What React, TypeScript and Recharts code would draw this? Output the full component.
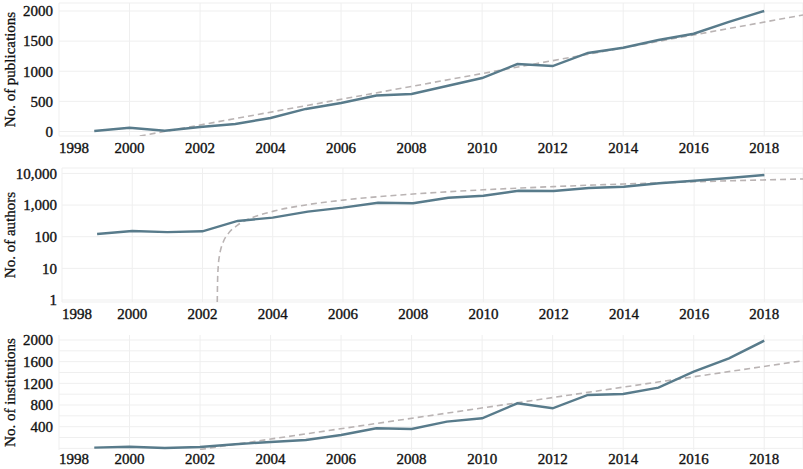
import React from 'react';
import { LineChart, Line, XAxis, YAxis, CartesianGrid } from 'recharts';

const years = [1999, 2000, 2001, 2002, 2003, 2004, 2005, 2006, 2007, 2008, 2009, 2010, 2011, 2012, 2013, 2014, 2015, 2016, 2017, 2018];
const publications = [8, 63, 13, 75, 125, 224, 374, 473, 598, 622, 755, 888, 1120, 1087, 1303, 1391, 1519, 1623, 1818, 2000];
const authors = [122, 151, 140, 148, 315, 400, 620, 828, 1185, 1136, 1700, 1973, 2830, 2770, 3460, 3800, 4870, 5880, 7160, 8900];
const institutions = [13, 31, 7, 26, 76, 118, 155, 247, 371, 358, 493, 555, 832, 740, 985, 1004, 1120, 1415, 1662, 1987];

const pubTrendYears = [2000.29, 2019.1];
const pubTrend = [-75, 1934];
const authorTrendYears = [2002.421, 2002.43, 2002.45, 2002.48, 2002.52, 2002.6, 2002.75, 2003, 2003.5, 2004, 2005, 2006, 2008, 2010, 2012, 2014, 2016, 2019.1];
const authorTrend = [0.86, 4, 12, 24, 40, 72, 132, 232, 432, 632, 1032, 1432, 2232, 3032, 3832, 4632, 5432, 6672];
const instTrendYears = [2002.0, 2019.1];
const instTrend = [-20, 1618];

const xTicks = [1998, 2000, 2002, 2004, 2006, 2008, 2010, 2012, 2014, 2016, 2018];
const pubTicks = [0, 500, 1000, 1500, 2000];
const authorTicks = [1, 10, 100, 1000, 10000];
const authorTickLabels = ['1', '10', '100', '1,000', '10,000'];
const instTicks = [400, 800, 1200, 1600, 2000];
const instGrid = [0, 200, 400, 600, 800, 1000, 1200, 1400, 1600, 1800, 2000];

const zip = (xs: number[], vs: number[]) => xs.map((x, i) => ({ year: x, v: vs[i] }));

const FONT = '"Liberation Serif", "Times New Roman", serif';
const TEXT = '#111';
const LINE = '#587b8b';
const TREND = '#bab4b4';
const GRID = '#efefef';

const XTick = (props: any) => {
  const { x, y, payload } = props;
  const first = payload.value === xTicks[0];
  return (
    <text x={x} y={y} dy="0.71em" textAnchor={first ? 'start' : 'middle'} fontSize={15} fontFamily={FONT} fill={TEXT} stroke={TEXT} strokeWidth={0.35}>
      {payload.value}
    </text>
  );
};

const makeYLabel = (text: string) => (props: any) => {
  const vb = props.viewBox || {};
  const cx = (vb.x || 0) + 10;
  const cy = (vb.y || 0) + (vb.height || 0) / 2;
  return (
    <text
      x={cx}
      y={cy}
      transform={`rotate(-90, ${cx}, ${cy})`}
      textAnchor="middle"
      dominantBaseline="central"
      fontSize={15}
      fontFamily={FONT}
      fill={TEXT}
      stroke={TEXT}
      strokeWidth={0.3}
    >
      {text}
    </text>
  );
};

const tickStyle = { fontSize: 15, fontFamily: FONT, fill: TEXT, stroke: TEXT, strokeWidth: 0.35 };

export default function App() {
  return (
    <div style={{ position: 'absolute', left: 0, top: 0, width: 803, height: 469, background: '#fff' }}>
      <div style={{ position: 'absolute', left: 0, top: 0 }}>
        <LineChart width={803} height={160} margin={{ top: 3, right: 0, bottom: 0, left: 0 }}>
          <CartesianGrid stroke={GRID} strokeWidth={1} />
          <XAxis
            type="number"
            dataKey="year"
            domain={[1998, 2019.1]}
            ticks={xTicks}
            interval={0}
            allowDataOverflow
            axisLine={false}
            tickLine={false}
            tickSize={0}
            tickMargin={6}
            height={24}
            tick={<XTick />}
          />
          <YAxis
            type="number"
            domain={[-75, 2133]}
            ticks={pubTicks}
            interval={0}
            allowDataOverflow
            axisLine={false}
            tickLine={false}
            tickSize={0}
            tickMargin={6}
            width={59}
            tick={tickStyle}
            label={{ value: 'No. of publications', content: makeYLabel('No. of publications') }}
          />
          <Line data={zip(pubTrendYears, pubTrend)} dataKey="v" stroke={TREND} strokeWidth={1.6} strokeDasharray="6 4" dot={false} isAnimationActive={false} />
          <Line data={zip(years, publications)} dataKey="v" stroke={LINE} strokeWidth={2.4} dot={false} isAnimationActive={false} />
        </LineChart>
      </div>
      <div style={{ position: 'absolute', left: 0, top: 160 }}>
        <LineChart width={803} height={166} margin={{ top: 8, right: 0, bottom: 0, left: 0 }}>
          <CartesianGrid stroke={GRID} strokeWidth={1} />
          <XAxis
            type="number"
            dataKey="year"
            domain={[1998, 2019.1]}
            ticks={xTicks}
            interval={0}
            allowDataOverflow
            axisLine={false}
            tickLine={false}
            tickSize={0}
            tickMargin={6}
            height={24}
            tick={<XTick />}
          />
          <YAxis
            type="number"
            scale="log"
            domain={[0.865, 14820]}
            ticks={authorTicks}
            interval={0}
            allowDataOverflow
            axisLine={false}
            tickLine={false}
            tickSize={0}
            tickMargin={5}
            width={62}
            tick={tickStyle}
            tickFormatter={(v: number) => authorTickLabels[authorTicks.indexOf(v)] ?? String(v)}
            label={{ value: 'No. of authors', content: makeYLabel('No. of authors') }}
          />
          <Line data={zip(authorTrendYears, authorTrend)} type="monotone" dataKey="v" stroke={TREND} strokeWidth={1.6} strokeDasharray="6 4" dot={false} isAnimationActive={false} />
          <Line data={zip(years, authors)} dataKey="v" stroke={LINE} strokeWidth={2.4} dot={false} isAnimationActive={false} />
        </LineChart>
      </div>
      <div style={{ position: 'absolute', left: 0, top: 326 }}>
        <LineChart width={803} height={143} margin={{ top: 9, right: 0, bottom: 0, left: 0 }}>
          <CartesianGrid stroke={GRID} strokeWidth={1} horizontalValues={instGrid} />
          <XAxis
            type="number"
            dataKey="year"
            domain={[1998, 2019.1]}
            ticks={xTicks}
            interval={0}
            allowDataOverflow
            axisLine={false}
            tickLine={false}
            tickSize={0}
            tickMargin={3}
            height={19}
            tick={<XTick />}
          />
          <YAxis
            type="number"
            domain={[-30, 2092]}
            ticks={instTicks}
            interval={0}
            allowDataOverflow
            axisLine={false}
            tickLine={false}
            tickSize={0}
            tickMargin={6}
            width={59}
            tick={tickStyle}
            label={{ value: 'No. of institutions', content: makeYLabel('No. of institutions') }}
          />
          <Line data={zip(instTrendYears, instTrend)} dataKey="v" stroke={TREND} strokeWidth={1.6} strokeDasharray="6 4" dot={false} isAnimationActive={false} />
          <Line data={zip(years, institutions)} dataKey="v" stroke={LINE} strokeWidth={2.4} dot={false} isAnimationActive={false} />
        </LineChart>
      </div>
    </div>
  );
}
